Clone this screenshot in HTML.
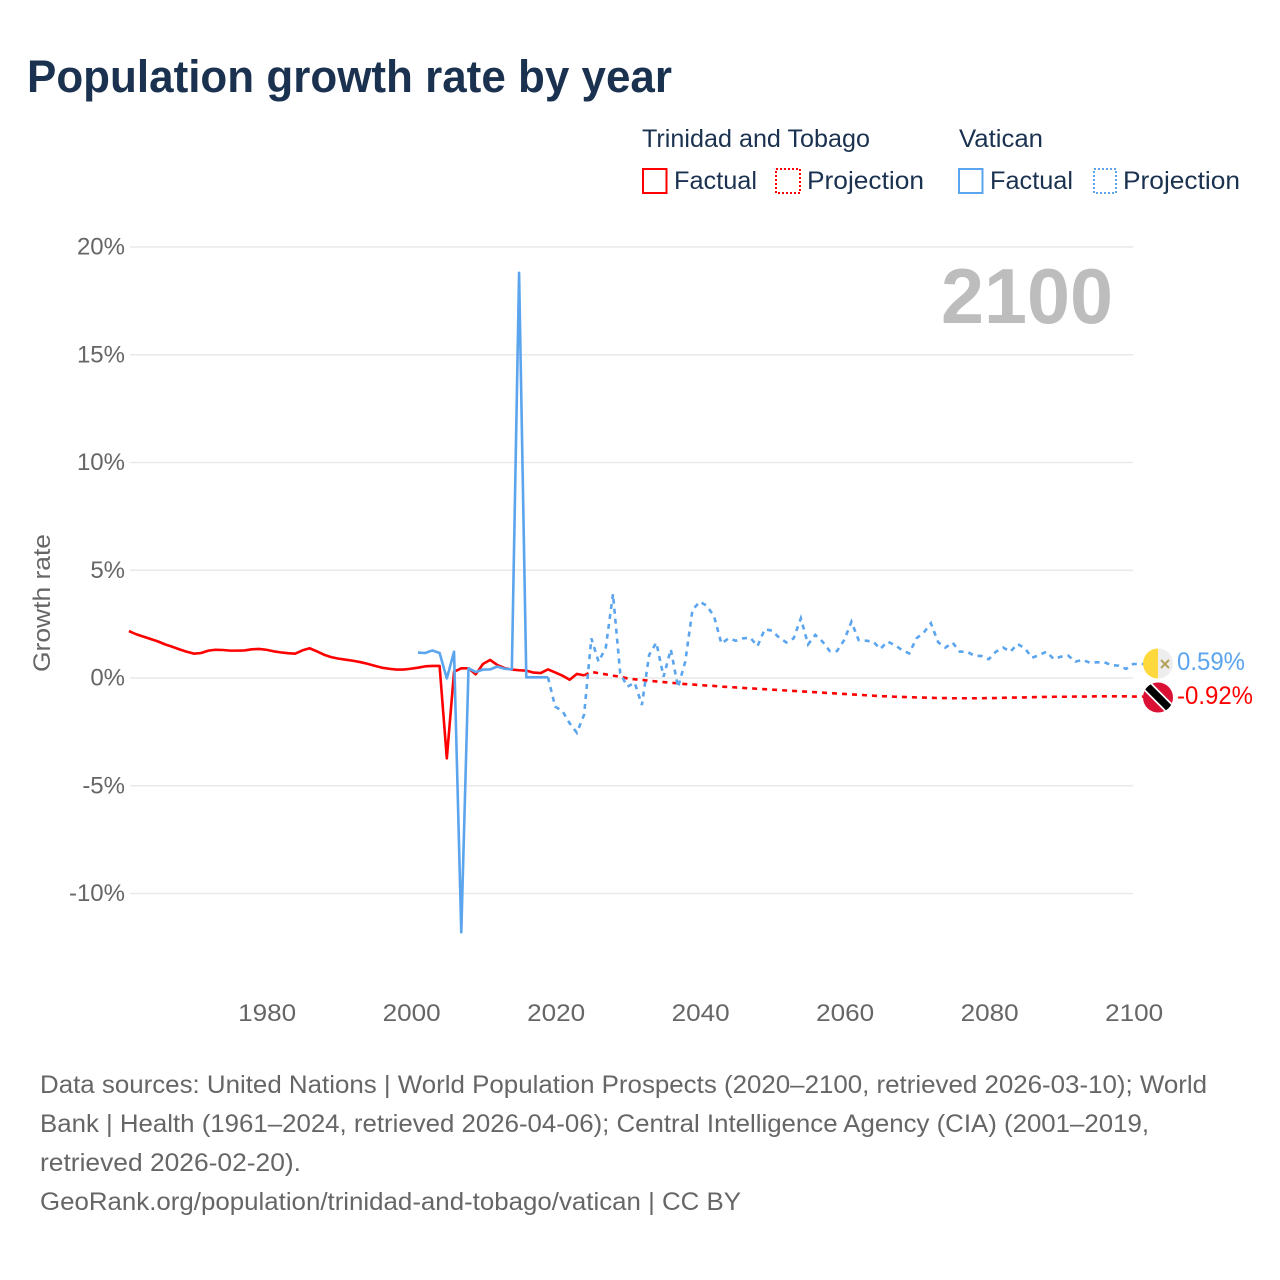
<!DOCTYPE html>
<html lang="en">
<head>
<meta charset="utf-8">
<title>Population growth rate by year</title>
<style>
html,body{margin:0;padding:0;background:#fff;width:1280px;height:1280px;overflow:hidden}
svg{display:block}
text{font-family:"Liberation Sans",sans-serif}
.legend{font-size:25px;fill:#1a3250}
.foot{font-size:25px;fill:#666}
.tick{font-size:24px;fill:#666}
</style>
</head>
<body>
<svg id="chart" xmlns="http://www.w3.org/2000/svg" width="1280" height="1280" viewBox="0 0 1280 1280">
  <rect x="0" y="0" width="1280" height="1280" fill="#fff"/>
  <text x="27" y="92" font-size="45" font-weight="700" fill="#1a3250" textLength="645" lengthAdjust="spacingAndGlyphs">Population growth rate by year</text>

  <g>
    <text class="legend" x="642" y="147" textLength="228" lengthAdjust="spacingAndGlyphs">Trinidad and Tobago</text>
    <text class="legend" x="959" y="147" textLength="84" lengthAdjust="spacingAndGlyphs">Vatican</text>
    <rect x="643" y="169" width="23.5" height="24" fill="none" stroke="#ff0000" stroke-width="2"/>
    <text class="legend" x="674" y="189" textLength="83" lengthAdjust="spacingAndGlyphs">Factual</text>
    <rect x="776" y="169" width="24" height="24" fill="none" stroke="#ff0000" stroke-width="2" stroke-dasharray="2 2" shape-rendering="crispEdges"/>
    <text class="legend" x="807" y="189" textLength="117" lengthAdjust="spacingAndGlyphs">Projection</text>
    <rect x="959" y="169" width="23.5" height="24" fill="none" stroke="#5ba4ee" stroke-width="2"/>
    <text class="legend" x="990" y="189" textLength="83" lengthAdjust="spacingAndGlyphs">Factual</text>
    <rect x="1094" y="169" width="22" height="24" fill="none" stroke="#5ba4ee" stroke-width="2" stroke-dasharray="2 2" shape-rendering="crispEdges"/>
    <text class="legend" x="1123" y="189" textLength="117" lengthAdjust="spacingAndGlyphs">Projection</text>
  </g>

  <g id="grid"></g>
  <g id="ytick-labels"></g>
  <g id="xtick-labels"></g>

  <text x="941" y="323" font-size="78" font-weight="700" fill="#bdbdbd" textLength="172" lengthAdjust="spacingAndGlyphs">2100</text>
  <text transform="translate(50,672) rotate(-90)" x="0" y="0" font-size="24" fill="#666" textLength="138" lengthAdjust="spacingAndGlyphs">Growth rate</text>

  <g id="series"></g>

  <g>
    <clipPath id="clip-va"><circle cx="1158" cy="663.5" r="15"/></clipPath>
    <g clip-path="url(#clip-va)">
      <rect x="1143" y="648" width="15" height="31" fill="#ffd83d"/>
      <rect x="1158" y="648" width="15" height="31" fill="#eeeeee"/>
      <path d="M1161 660 L1169 668 M1169 660 L1161 668" stroke="#b3a15a" stroke-width="2" fill="none"/>
    </g>
    <text x="1177" y="670" font-size="25" fill="#5ba4ee" textLength="68" lengthAdjust="spacingAndGlyphs">0.59%</text>
  </g>
  <g>
    <clipPath id="clip-tt"><circle cx="1158" cy="697.5" r="15"/></clipPath>
    <g clip-path="url(#clip-tt)">
      <rect x="1143" y="682" width="30" height="31" fill="#da1035"/>
      <path d="M1145 684 L1172 711" stroke="#fff" stroke-width="11" fill="none"/>
      <path d="M1145 684 L1172 711" stroke="#000" stroke-width="7.5" fill="none"/>
    </g>
    <text x="1177" y="704" font-size="25" fill="#ff0000" textLength="76" lengthAdjust="spacingAndGlyphs">-0.92%</text>
  </g>

  <g>
    <text class="foot" x="40" y="1093" textLength="1167" lengthAdjust="spacingAndGlyphs">Data sources: United Nations | World Population Prospects (2020–2100, retrieved 2026-03-10); World</text>
    <text class="foot" x="40" y="1132" textLength="1109" lengthAdjust="spacingAndGlyphs">Bank | Health (1961–2024, retrieved 2026-04-06); Central Intelligence Agency (CIA) (2001–2019,</text>
    <text class="foot" x="40" y="1171" textLength="261" lengthAdjust="spacingAndGlyphs">retrieved 2026-02-20).</text>
    <text class="foot" x="40" y="1210" textLength="701" lengthAdjust="spacingAndGlyphs">GeoRank.org/population/trinidad-and-tobago/vatican | CC BY</text>
  </g>
</svg>
<script>
const yTickValues = [20, 15, 10, 5, 0, -5, -10];
const yTickLabels = ['20%', '15%', '10%', '5%', '0%', '-5%', '-10%'];
const xTickValues = [1980, 2000, 2020, 2040, 2060, 2080, 2100];
const xTickLabels = ['1980', '2000', '2020', '2040', '2060', '2080', '2100'];

const trinidadFactualStart = 1961;
const trinidadFactual = [2.18,2.03,1.92,1.81,1.70,1.56,1.45,1.33,1.22,1.13,1.16,1.27,1.31,1.30,1.27,1.27,1.28,1.33,1.35,1.31,1.24,1.19,1.15,1.13,1.28,1.38,1.24,1.08,0.97,0.90,0.85,0.80,0.74,0.66,0.57,0.48,0.43,0.39,0.39,0.43,0.48,0.54,0.56,0.56,-3.73,0.29,0.45,0.45,0.17,0.65,0.84,0.60,0.46,0.39,0.36,0.34,0.25,0.23,0.40,0.26,0.11,-0.08,0.19,0.12];
const trinidadProjectionStart = 2025;
const trinidadProjection = [0.29,0.22,0.17,0.11,0.06,-0.02,-0.06,-0.09,-0.13,-0.16,-0.19,-0.22,-0.25,-0.28,-0.30,-0.33,-0.35,-0.37,-0.40,-0.42,-0.44,-0.46,-0.48,-0.50,-0.52,-0.54,-0.56,-0.58,-0.60,-0.62,-0.64,-0.66,-0.68,-0.70,-0.72,-0.74,-0.76,-0.78,-0.80,-0.82,-0.84,-0.85,-0.87,-0.88,-0.89,-0.90,-0.91,-0.92,-0.93,-0.93,-0.94,-0.94,-0.94,-0.94,-0.94,-0.93,-0.93,-0.92,-0.91,-0.91,-0.90,-0.89,-0.88,-0.88,-0.87,-0.87,-0.87,-0.86,-0.86,-0.86,-0.85,-0.85,-0.85,-0.85,-0.85,-0.86];

const vaticanFactualStart = 2001;
const vaticanFactual = [1.18,1.16,1.28,1.16,-0.02,1.22,-11.8,0.45,0.28,0.39,0.40,0.53,0.43,0.40,18.8,0.03,0.03,0.03,0.03];
const vaticanProjectionStart = 2020;
const vaticanProjection = [-1.33,-1.53,-2.10,-2.54,-1.70,1.84,0.76,1.40,3.90,0.22,-0.40,-0.22,-1.25,1.07,1.64,0.06,1.33,-0.43,0.76,3.16,3.54,3.35,2.85,1.60,1.84,1.73,1.84,1.87,1.48,2.26,2.20,1.87,1.65,1.84,2.77,1.56,2.00,1.69,1.25,1.25,1.76,2.61,1.76,1.73,1.69,1.35,1.69,1.53,1.30,1.14,1.84,2.10,2.54,1.66,1.41,1.64,1.22,1.22,1.04,1.02,0.87,1.22,1.41,1.22,1.58,1.38,0.94,1.07,1.22,0.88,0.99,1.04,0.76,0.84,0.71,0.73,0.73,0.60,0.57,0.42,0.65];

const SVG_NS = 'http://www.w3.org/2000/svg';
const xScale = function (year) { return 410.7 + (year - 2000) * 7.225; };
const yScale = function (pct) { return 678 - pct * 21.55; };
const PLOT_LEFT = 130;
const PLOT_RIGHT = 1133;
const X_LABEL_OFFSET = 1;
const RED = '#ff0000';
const BLUE = '#5ba4ee';

const gridGroup = document.getElementById('grid');
const yLabelGroup = document.getElementById('ytick-labels');
yTickValues.forEach(function (v, i) {
  const line = document.createElementNS(SVG_NS, 'line');
  
  
  line.setAttribute('x1', PLOT_LEFT);
  line.setAttribute('x2', PLOT_RIGHT);
  line.setAttribute('y1', yScale(v));
  line.setAttribute('y2', yScale(v));
  line.setAttribute('stroke', '#e9e9e9');
  line.setAttribute('stroke-width', '1.5');
  gridGroup.appendChild(line);
  const label = document.createElementNS(SVG_NS, 'text');
  
  
  label.setAttribute('class', 'tick');
  label.setAttribute('x', 125);
  label.setAttribute('y', yScale(v) + 7.5);
  label.setAttribute('text-anchor', 'end');
  label.textContent = yTickLabels[i];
  yLabelGroup.appendChild(label);
});

const xLabelGroup = document.getElementById('xtick-labels');
xTickValues.forEach(function (v, i) {
  const label = document.createElementNS(SVG_NS, 'text');
  
  
  label.setAttribute('class', 'tick');
  label.setAttribute('x', xScale(v) + X_LABEL_OFFSET);
  label.setAttribute('y', 1021);
  label.setAttribute('text-anchor', 'middle');
  label.setAttribute('textLength', '58');
  label.setAttribute('lengthAdjust', 'spacingAndGlyphs');
  label.textContent = xTickLabels[i];
  xLabelGroup.appendChild(label);
});

function linePoints(start, values, joinYear, joinValue, tail) {
  const pts = [];
  if (joinYear !== null) {
    pts.push(xScale(joinYear).toFixed(2) + ',' + yScale(joinValue).toFixed(2));
  }
  values.forEach(function (v, i) {
    pts.push(xScale(start + i).toFixed(2) + ',' + yScale(v).toFixed(2));
  });
  if (tail) {
    const lastYear = start + values.length - 1;
    pts.push((xScale(lastYear) + tail).toFixed(2) + ',' + yScale(values[values.length - 1]).toFixed(2));
  }
  return pts.join(' ');
}

const seriesGroup = document.getElementById('series');

const trinidadFactualLine = document.createElementNS(SVG_NS, 'polyline');


trinidadFactualLine.setAttribute('points', linePoints(trinidadFactualStart, trinidadFactual, null, 0, 0));
trinidadFactualLine.setAttribute('fill', 'none');
trinidadFactualLine.setAttribute('stroke', RED);
trinidadFactualLine.setAttribute('stroke-width', '2.6');
trinidadFactualLine.setAttribute('stroke-linejoin', 'round');
seriesGroup.appendChild(trinidadFactualLine);

const trinidadProjectionLine = document.createElementNS(SVG_NS, 'polyline');


trinidadProjectionLine.setAttribute('points', linePoints(trinidadProjectionStart, trinidadProjection, trinidadProjectionStart - 1, trinidadFactual[trinidadFactual.length - 1], 10));
trinidadProjectionLine.setAttribute('fill', 'none');
trinidadProjectionLine.setAttribute('stroke', RED);
trinidadProjectionLine.setAttribute('stroke-width', '2.6');
trinidadProjectionLine.setAttribute('stroke-dasharray', '5 5');
seriesGroup.appendChild(trinidadProjectionLine);

const vaticanFactualLine = document.createElementNS(SVG_NS, 'polyline');


vaticanFactualLine.setAttribute('points', linePoints(vaticanFactualStart, vaticanFactual, null, 0, 0));
vaticanFactualLine.setAttribute('fill', 'none');
vaticanFactualLine.setAttribute('stroke', BLUE);
vaticanFactualLine.setAttribute('stroke-width', '2.6');
vaticanFactualLine.setAttribute('stroke-linejoin', 'round');
seriesGroup.appendChild(vaticanFactualLine);

const vaticanProjectionLine = document.createElementNS(SVG_NS, 'polyline');


vaticanProjectionLine.setAttribute('points', linePoints(vaticanProjectionStart, vaticanProjection, vaticanProjectionStart - 1, vaticanFactual[vaticanFactual.length - 1], 10));
vaticanProjectionLine.setAttribute('fill', 'none');
vaticanProjectionLine.setAttribute('stroke', BLUE);
vaticanProjectionLine.setAttribute('stroke-width', '2.6');
vaticanProjectionLine.setAttribute('stroke-dasharray', '5 5');
seriesGroup.appendChild(vaticanProjectionLine);
</script>
</body>
</html>
